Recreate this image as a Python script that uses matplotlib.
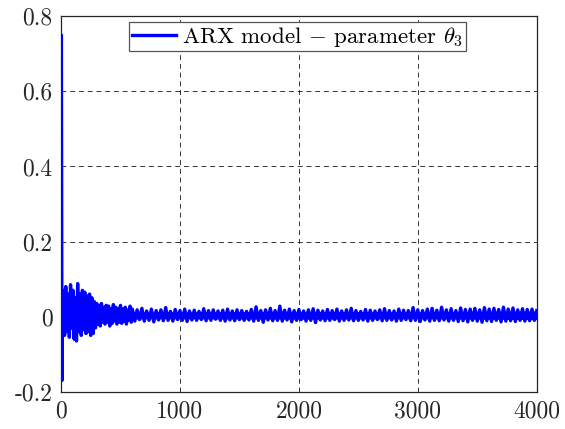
import matplotlib
matplotlib.use("Agg")
import matplotlib.pyplot as plt
import numpy as np

# sample index of the first few points (initial transient)
head_k = [0, 3, 8, 12]
head_theta = [0.0, 0.75, -0.17, 0.06]

# values, every 10 samples from 20 to 600
early_theta = [
    0.07, -0.05, 0.08, -0.04, 0.06, -0.055, 0.085, -0.03, 0.07, -0.06,
    0.05, -0.065, 0.088, -0.04, 0.06, -0.05, 0.07, -0.035, 0.065, -0.045,
    0.055, -0.04, 0.06, -0.05, 0.05, -0.045, 0.04, -0.03, 0.035, -0.02,
    0.03, -0.025, 0.035, -0.015, 0.025, -0.02, 0.03, -0.015, 0.028, -0.025,
    0.02, -0.018, 0.032, -0.012, 0.025, -0.02, 0.022, -0.015, 0.03, -0.018,
    0.02, -0.012, 0.025, -0.02, 0.018, -0.01, 0.028, -0.015, 0.02,
]

# every 20 samples from 620 to 4000
late_theta = [
    -0.012, 0.018, -0.008, 0.022, -0.012, 0.015, -0.01, 0.02, -0.014, 0.016,
    -0.009, 0.018, -0.011, 0.024, -0.01, 0.014, -0.012, 0.019, -0.008, 0.016,
    -0.01, 0.02, -0.013, 0.015, -0.009, 0.017, -0.01, 0.014, -0.008, 0.021,
    -0.011, 0.016, -0.01, 0.018, -0.007, 0.015, -0.01, 0.017, -0.012, 0.02,
    -0.009, 0.015, -0.011, 0.018, -0.008, 0.016, -0.01, 0.014, -0.009, 0.019,
    -0.012, 0.026, -0.01, 0.016, -0.015, 0.018, -0.009, 0.022, -0.011, 0.016,
    -0.01, 0.028, -0.012, 0.017, -0.009, 0.02, -0.014, 0.016, -0.01, 0.019,
    -0.008, 0.015, -0.012, 0.018, -0.01, 0.021, -0.016, 0.017, -0.009, 0.015,
    -0.011, 0.019, -0.01, 0.016, -0.008, 0.02, -0.012, 0.015, -0.01, 0.018,
    -0.009, 0.022, -0.011, 0.016, -0.01, 0.014, -0.009, 0.019, -0.012, 0.017,
    -0.01, 0.015, -0.008, 0.018, -0.011, 0.021, -0.01, 0.016, -0.009, 0.015,
    -0.012, 0.02, -0.01, 0.017, -0.008, 0.016, -0.011, 0.024, -0.01, 0.018,
    -0.013, 0.016, -0.009, 0.02, -0.012, 0.022, -0.01, 0.017, -0.011, 0.025,
    -0.009, 0.018, -0.012, 0.021, -0.01, 0.016, -0.013, 0.023, -0.011, 0.019,
    -0.014, 0.02, -0.01, 0.022, -0.012, 0.018, -0.015, 0.024, -0.011, 0.02,
    -0.013, 0.022, -0.01, 0.019, -0.014, 0.025, -0.012, 0.02, -0.011, 0.023,
    -0.013, 0.018, -0.01, 0.021, -0.012, 0.019, -0.011, 0.02, -0.01, 0.016,
]

# solid core of the noise band (where the trace is too dense to separate)
band_k = [15, 100, 250, 320, 500, 700, 1000, 2000, 3000, 4000]
band_hi = [0.045, 0.05, 0.035, 0.02, 0.015, 0.013, 0.013, 0.014, 0.013, 0.015]
band_lo = [-0.03, -0.035, -0.025, -0.012, -0.008, -0.006, -0.006, -0.007, -0.006, -0.008]

xticks = [0, 1000, 2000, 3000, 4000]
yticks = [-0.2, 0, 0.2, 0.4, 0.6, 0.8]
ytick_labels = ["-0.2", "0", "0.2", "0.4", "0.6", "0.8"]
legend_label = r"ARX model $-$ parameter $\theta_3$"

k = np.concatenate([head_k, np.arange(20, 601, 10), np.arange(620, 4001, 20)])
theta = np.concatenate([head_theta, early_theta, late_theta])

plt.rcParams["font.family"] = "serif"
plt.rcParams["font.serif"] = ["cmr10", "DejaVu Serif"]
plt.rcParams["mathtext.fontset"] = "cm"
plt.rcParams["axes.formatter.use_mathtext"] = True

fig = plt.figure(figsize=(5.65, 4.29), dpi=100)
ax = fig.add_axes([0.108, 0.087, 0.842, 0.875])

ax.fill_between(band_k, band_lo, band_hi, color="#0000ff", lw=0, zorder=2)
ax.plot(k, theta, color="#0000ff", lw=2.4, label=legend_label, zorder=3)

ax.set_xlim(0, 4000)
ax.set_ylim(-0.2, 0.8)
ax.set_xticks(xticks)
ax.set_xticklabels([str(t) for t in xticks])
ax.set_yticks(yticks)
ax.set_yticklabels(ytick_labels)
ax.tick_params(direction="in", length=0, labelsize=17, colors="#262626", pad=6)
ax.grid(True, color="black", linestyle=(0, (5, 4)), lw=0.7, alpha=0.8)
for s in ax.spines.values():
    s.set_color("#262626")
    s.set_linewidth(0.9)

leg = ax.legend(loc="upper center", bbox_to_anchor=(0.497, 0.985), fontsize=16.5,
                fancybox=False, framealpha=1, edgecolor="#555555",
                handlelength=1.9, handletextpad=0.26, borderpad=0.12,
                borderaxespad=0)
leg.get_frame().set_linewidth(0.9)

fig.savefig("out.png", dpi=100)
